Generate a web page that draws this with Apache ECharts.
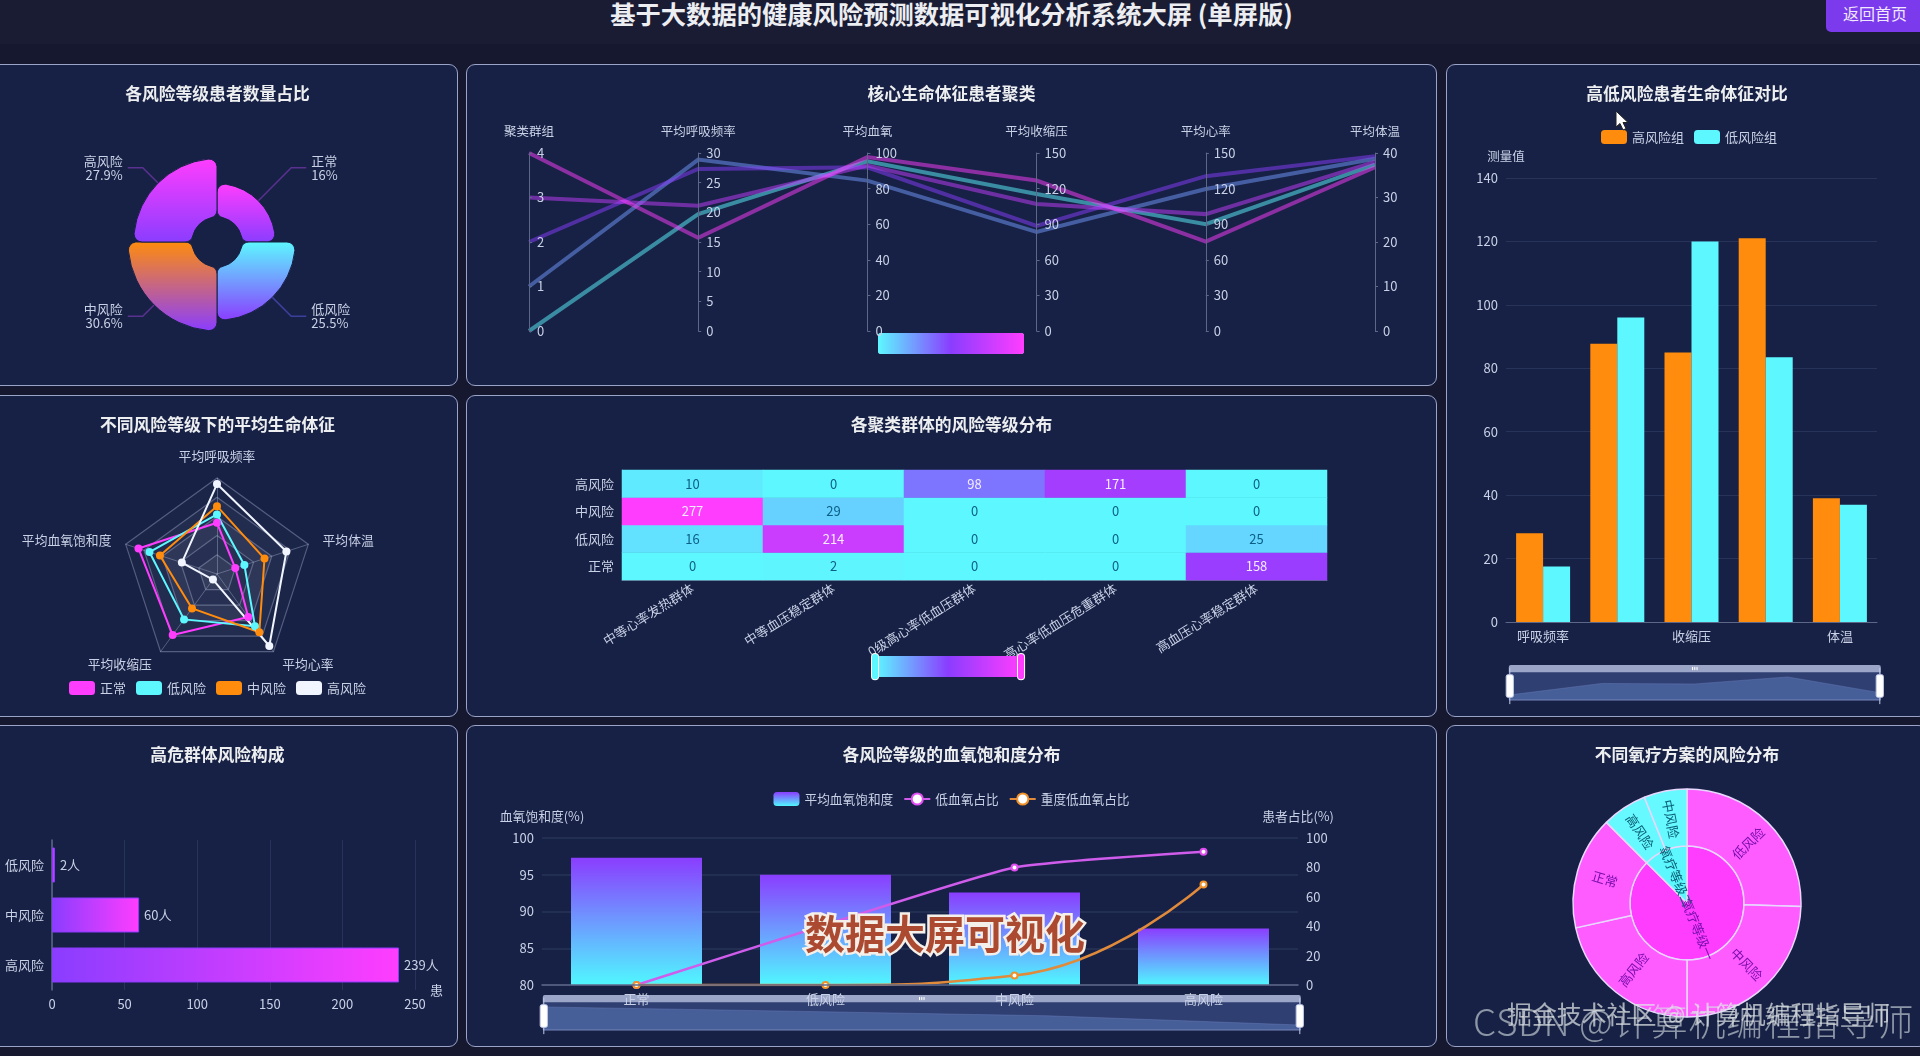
<!DOCTYPE html>
<html><head><meta charset="utf-8">
<script src="https://cdn.jsdelivr.net/npm/echarts@6/dist/echarts.min.js"></script>
<style>
html,body{margin:0;padding:0;width:1920px;height:1056px;overflow:hidden;background:#15182f;font-family:"Noto Sans CJK SC","Noto Sans",sans-serif;}
#hdr{position:absolute;left:0;top:0;width:1920px;height:44px;background:#1a1c34;}
#ttl{position:absolute;left:0;width:1903px;top:-4px;text-align:center;color:#eceef2;font-size:25.3px;font-weight:700;line-height:34px;white-space:nowrap;}
#btn{position:absolute;left:1826px;top:-6px;width:104px;height:38px;background:#7c3aed;border-radius:5px;color:#f0e8ff;font-size:16px;line-height:38px;padding-left:17px;box-sizing:border-box;}
.p{position:absolute;box-sizing:border-box;background:#172145;border:1px solid #9aa3c8;border-radius:9px;overflow:hidden;}
.c{position:absolute;left:-1px;top:-1px;}
#wm1{position:absolute;left:805px;top:904px;font-size:40px;line-height:56px;font-weight:700;color:#ab4a30;-webkit-text-stroke:5px #f4efe9;paint-order:stroke fill;white-space:nowrap;}
#wm2{position:absolute;left:1507px;top:997px;font-size:24.9px;line-height:32px;color:rgba(225,230,232,.72);white-space:nowrap;}
#wm3{position:absolute;left:1473px;top:996px;font-size:37px;line-height:48px;color:rgba(215,222,226,.62);white-space:nowrap;font-weight:300;letter-spacing:.6px;}
#cur{position:absolute;left:1615px;top:110px;}
</style></head><body>
<div id="hdr"></div>
<div id="ttl">基于大数据的健康风险预测数据可视化分析系统大屏 (单屏版)</div>
<div id="btn">返回首页</div>
<div id="root"></div>
<div id="wm1">数据大屏可视化</div>
<div id="wm3">CSDN @计算机编程指导师</div>
<div id="wm2">掘金技术社区 @ 计算机编程指导师</div>
<svg id="cur" width="15" height="22" viewBox="0 0 15 22"><path d="M1 1 L1 17 L5 13.5 L8 20 L11 18.6 L8 12.5 L13 12.5 Z" fill="#fff" stroke="#222" stroke-width="1"/></svg>
<script>
// ---------- data ----------
const riskNames = ['正常','低风险','中风险','高风险'];
const riskShare = [16,25.5,30.6,27.9];

const clusterDims = ['聚类群组','平均呼吸频率','平均血氧','平均收缩压','平均心率','平均体温'];
const cluster0 = [0,19.7,95.3,115.5,90,37.4];
const cluster1 = [1,28.9,84.5,83.5,119.7,38.7];
const cluster2 = [2,27.3,92,88.6,130.5,39.3];
const cluster3 = [3,21.1,93,107,98.5,38];
const cluster4 = [4,15.7,97.7,126.8,75.3,36.8];

const radarNames = ['平均呼吸频率','平均血氧饱和度','平均收缩压','平均心率','平均体温'];
const radarMin = [0,80,80,0,35];
const radarMax = [30,100,150,130,40];
const radarNormal = [16,97.2,135,72,36];
const radarLow = [18.6,94.8,120.9,87.5,36.5];
const radarMid = [21.2,92.5,111,97.5,37.6];
const radarHigh = [28.1,87.7,85,120.5,38.8];

const heatGroups = ['中等心率发热群体','中等血压稳定群体','0级高心率低血压群体','高心率低血压危重群体','高血压心率稳定群体'];
const heatHigh = [10,0,98,171,0];
const heatMid = [277,29,0,0,0];
const heatLow = [16,214,0,0,25];
const heatNormal = [0,2,0,0,158];

const vitalNames = ['呼吸频率','血氧饱和度','收缩压','心率','体温'];
const vitalHigh = [28,87.7,85,121,39];
const vitalLow = [17.5,96,120,83.5,37];

const hrNames = ['高风险','中风险','低风险'];
const hrCounts = [239,60,2];

const spo2Avg = [97.3,95,92.6,87.7];
const lowO2 = [0,41,80,90.7];
const severeO2 = [0,0,6.4,68.4];

const o2Plan1 = ['氧疗等级一',['低风险',255],['中风险',245],['高风险',215],['正常',160]];
const o2Plan2 = ['氧疗等级二',['高风险',64],['中风险',61]];

// ---------- helpers ----------
const FONT='"Noto Sans CJK SC","Noto Sans",sans-serif';
const TXT='#c9d1e6', LINE='#5d6788', SPLIT='rgba(150,165,210,.14)';
const MAG='#ff3dff', CYAN='#5df8ff', ORG='#ff8c0d', PUR='#8a3dff', WHT='#f0f5ff';
function grad(x,y,x2,y2,a,b){return new echarts.graphic.LinearGradient(x,y,x2,y2,[{offset:0,color:a},{offset:1,color:b}]);}
function panel(x,y,w,h,title,opt){
  const d=document.createElement('div');d.className='p';
  d.style.cssText=`left:${x}px;top:${y}px;width:${w}px;height:${h}px`;
  const c=document.createElement('div');c.className='c';c.style.cssText=`width:${w}px;height:${h}px`;
  d.appendChild(c);document.getElementById('root').appendChild(d);
  const ch=echarts.init(c,null,{renderer:'canvas'});
  opt.textStyle=Object.assign({fontFamily:FONT},opt.textStyle||{});
  opt.animation=false;
  opt.title={text:title,left:'center',top:16,textStyle:{color:'#eceef0',fontSize:16.8,fontWeight:'bold',fontFamily:FONT}};
  ch.setOption(opt);return ch;
}
const lab=(s=12.5)=>({color:TXT,fontSize:s,fontFamily:FONT});
const zoomStyle={type:'slider',start:0,end:100,height:29,showDetail:false,showDataShadow:true,moveHandleSize:7,handleSize:'125%',
  backgroundColor:'rgba(70,90,150,.12)',borderColor:'rgba(200,210,240,.35)',fillerColor:'rgba(90,115,190,.32)',
  moveHandleStyle:{color:'#9aa5c8',opacity:1},
  dataBackground:{areaStyle:{color:'#4a6299',opacity:.8},lineStyle:{color:'#6b80b5',opacity:.9}},
  selectedDataBackground:{areaStyle:{color:'#4a6299',opacity:.8},lineStyle:{color:'#6b80b5',opacity:.9}}};

// 1. rose pie
const roseCol=[[MAG,PUR],[CYAN,PUR],[ORG,PUR],[MAG,PUR]];
panel(-23,64,481,322,'各风险等级患者数量占比',{
  series:[{type:'pie',roseType:'area',center:[240,178],radius:[25,89],startAngle:90,
    itemStyle:{borderRadius:8,borderColor:'#172145',borderWidth:1},
    label:{formatter:'{b}\n{c}%',color:TXT,fontSize:13,lineHeight:14,fontFamily:FONT},
    labelLine:{length:16,length2:15},
    data:riskNames.map((n,i)=>({name:n,value:riskShare[i],
      itemStyle:{color:grad(0,0,0,1,roseCol[i][0],roseCol[i][1])},
      labelLine:{lineStyle:{color:i==1?'#3d3f9c':'#5a3190',width:1.5}}}))
  }]
});

// 2. parallel
const pAxis=[[4,1],[30,5],[100,20],[150,30],[150,30],[40,10]];
panel(466,64,971,322,'核心生命体征患者聚类',{
  parallel:{left:63,right:62,top:89,bottom:55,
    parallelAxisDefault:{nameLocation:'end',nameGap:15,nameTextStyle:lab(12.5),
      axisLine:{lineStyle:{color:LINE}},axisTick:{lineStyle:{color:LINE},length:3,inside:true},splitLine:{show:false},axisLabel:lab(13)}},
  parallelAxis:clusterDims.map((n,i)=>({dim:i,name:n,min:0,max:pAxis[i][0],interval:pAxis[i][1]})),
  visualMap:{type:'continuous',dimension:0,min:0,max:4,orient:'horizontal',left:397,top:254,itemWidth:21,itemHeight:146,calculable:false,text:null,showLabel:false,
    formatter:()=>'',inRange:{color:[CYAN,PUR,MAG]},textStyle:{color:'transparent',fontSize:1}},
  series:[{type:'parallel',smooth:false,lineStyle:{width:4,opacity:.5},data:[cluster0,cluster1,cluster2,cluster3,cluster4]}]
});

// 3. radar
const radarSeries=[['正常',radarNormal,MAG],['低风险',radarLow,CYAN],['中风险',radarMid,ORG],['高风险',radarHigh,WHT]];
panel(-23,395,481,322,'不同风险等级下的平均生命体征',{
  legend:{bottom:17,left:'center',itemWidth:26,itemHeight:14,itemGap:10,textStyle:lab(13),data:riskNames},
  radar:{center:[240,179],radius:96,shape:'polygon',splitNumber:5,nameGap:15,axisName:lab(12.8),
    axisLine:{lineStyle:{color:'rgba(190,200,230,.35)'}},
    splitLine:{lineStyle:{color:'rgba(190,200,230,.36)',width:1.2}},
    splitArea:{areaStyle:{color:['rgba(255,255,255,.12)','rgba(255,255,255,.07)','rgba(255,255,255,.1)','rgba(255,255,255,.05)','rgba(255,255,255,.02)']}},
    indicator:radarNames.map((n,i)=>({name:n,min:radarMin[i],max:radarMax[i]}))},
  series:[{type:'radar',symbol:'circle',symbolSize:8,
    data:radarSeries.map(s=>({name:s[0],value:s[1],itemStyle:{color:s[2]},lineStyle:{color:s[2],width:2}}))}]
});

// 4. heatmap
const heatRows=[heatNormal,heatLow,heatMid,heatHigh];
const heatData=[];
heatRows.forEach((r,y)=>r.forEach((v,x)=>heatData.push({value:[x,y,v],label:{color:v>90?'#f3ecff':'#0c5f84'}})));
panel(466,395,971,322,'各聚类群体的风险等级分布',{
  grid:{left:156,right:110,top:75,height:110},
  xAxis:{type:'category',data:heatGroups,axisLabel:Object.assign(lab(13),{rotate:32,interval:0,margin:7}),axisLine:{lineStyle:{color:LINE}},axisTick:{lineStyle:{color:LINE}},splitArea:{show:false}},
  yAxis:{type:'category',data:riskNames,axisLabel:lab(13),axisLine:{lineStyle:{color:LINE}},axisTick:{lineStyle:{color:LINE}}},
  visualMap:{type:'continuous',min:0,max:277,orient:'horizontal',left:390,top:243,itemWidth:21,itemHeight:146,calculable:true,
    formatter:()=>'',inRange:{color:[CYAN,PUR,MAG]},textStyle:{color:'transparent',fontSize:1}},
  series:[{type:'heatmap',data:heatData,label:{show:true,fontSize:13,fontFamily:FONT,formatter:p=>p.value[2]},itemStyle:{borderWidth:0}}]
});

// 5. grouped bars
panel(1446,64,482,653,'高低风险患者生命体征对比',{
  legend:{top:61,left:150,itemWidth:26,itemHeight:14,itemGap:10,textStyle:lab(13)},
  grid:{left:60,right:51,top:114,bottom:95},
  xAxis:{type:'category',data:vitalNames,axisLabel:Object.assign(lab(13),{interval:1}),axisLine:{lineStyle:{color:LINE}},axisTick:{lineStyle:{color:LINE}}},
  yAxis:{type:'value',min:0,max:140,interval:20,name:'测量值',nameGap:15,nameTextStyle:lab(12.5),axisLabel:lab(13),axisLine:{show:false},axisTick:{show:false},splitLine:{lineStyle:{color:SPLIT}}},
  dataZoom:[Object.assign({left:60,right:50,bottom:23},zoomStyle)],
  series:[
    {name:'高风险组',type:'bar',barWidth:27,barGap:0,data:vitalHigh,itemStyle:{color:ORG}},
    {name:'低风险组',type:'bar',barWidth:27,barGap:0,data:vitalLow,itemStyle:{color:CYAN}}
  ]
});

// 6. horizontal bars
panel(-23,725,481,322,'高危群体风险构成',{
  grid:{left:75,right:43,top:115,bottom:57},
  xAxis:{type:'value',min:0,max:250,interval:50,name:'患',nameGap:15,nameLocation:'end',nameTextStyle:Object.assign(lab(13),{verticalAlign:'middle'}),
    axisLabel:lab(13),axisLine:{show:false},axisTick:{show:false},splitLine:{lineStyle:{color:SPLIT}}},
  yAxis:{type:'category',data:hrNames,axisLabel:lab(13),axisLine:{lineStyle:{color:LINE,width:1.5}},axisTick:{lineStyle:{color:LINE,width:1.5}}},
  series:[{type:'bar',barWidth:35,data:hrCounts,
    itemStyle:{color:grad(0,0,1,0,PUR,MAG),borderColor:'#8a3dff',borderWidth:1},
    label:{show:true,position:'right',formatter:'{c}人',color:TXT,fontSize:13,fontFamily:FONT}}]
});

// 7. mixed
panel(466,725,971,322,'各风险等级的血氧饱和度分布',{
  legend:{top:62,left:'center',itemWidth:26,itemHeight:14,itemGap:10,textStyle:lab(12.7),data:['平均血氧饱和度','低血氧占比','重度低血氧占比']},
  grid:{left:76,right:139,top:113,bottom:62},
  xAxis:{type:'category',data:riskNames,z:20,axisLabel:lab(13),axisLine:{lineStyle:{color:LINE,width:1.5}},axisTick:{lineStyle:{color:LINE}}},
  yAxis:[
    {type:'value',name:'血氧饱和度(%)',min:80,max:100,interval:5,nameGap:15,nameTextStyle:lab(12.8),axisLabel:lab(13),axisLine:{show:false},axisTick:{show:false},splitLine:{lineStyle:{color:SPLIT,width:1.5}}},
    {type:'value',name:'患者占比(%)',min:0,max:100,interval:20,nameGap:15,nameTextStyle:lab(12.8),axisLabel:lab(13),axisLine:{show:false},axisTick:{show:false},splitLine:{show:false}}
  ],
  dataZoom:[Object.assign({left:74,right:139,bottom:23},zoomStyle)],
  series:[
    {name:'平均血氧饱和度',type:'bar',barWidth:131,data:spo2Avg,itemStyle:{color:grad(0,0,0,1,PUR,'#50f7ff')}},
    {name:'低血氧占比',type:'line',yAxisIndex:1,smooth:.15,symbol:'emptyCircle',symbolSize:6,data:lowO2,itemStyle:{color:'#e04df0',borderWidth:1.5},lineStyle:{color:'#cf5cea',width:2.5}},
    {name:'重度低血氧占比',type:'line',yAxisIndex:1,smooth:true,symbol:'emptyCircle',symbolSize:6,data:severeO2,itemStyle:{color:'#f0922a',borderWidth:1.5},lineStyle:{color:'#e08a3c',width:2.5}}
  ]
});

// 8. sunburst
const sbBorder={borderColor:'#e8d8ff',borderWidth:1.5};
function planNode(plan,inner,outer,txt){
  return {name:plan[0],value:plan.slice(1).reduce((s,k)=>s+k[1],0),
    itemStyle:Object.assign({color:inner},sbBorder),label:{color:txt},
    children:plan.slice(1).map(k=>({name:k[0],value:k[1],itemStyle:Object.assign({color:outer},sbBorder),label:{color:txt}}))};
}
panel(1446,725,482,322,'不同氧疗方案的风险分布',{
  series:[{type:'sunburst',center:[241,178],radius:[0,114],sort:null,startAngle:90,
    label:{rotate:'radial',fontSize:13,fontFamily:FONT},
    data:[planNode(o2Plan1,MAG,'#ff5cff','#7a0fae'),planNode(o2Plan2,CYAN,'#66f9ff','#0a5f74')]}]
});
</script></body></html>
